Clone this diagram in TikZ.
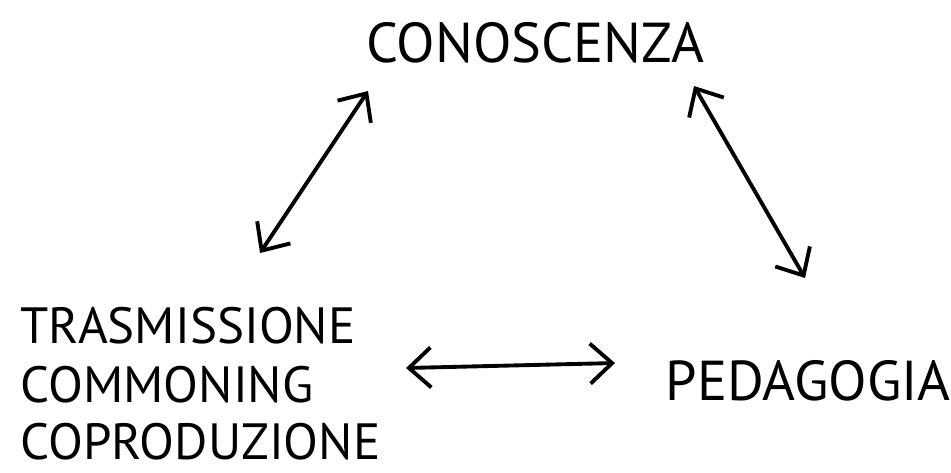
\documentclass[tikz,border=0pt]{standalone}
\usepackage{fontspec}
\setmainfont{PT Sans}
\usepackage{tikz}
\usetikzlibrary{arrows.meta, positioning}

\tikzset{
  word/.style={inner sep=0pt, font=\fontsize{16}{19}\selectfont},
  listword/.style={word, anchor=base west, font=\fontsize{14.5}{17}\selectfont},
  link/.style={line width=1.1pt, line cap=round,
    {Straight Barb[length=2.2mm, width=4mm, line width=1.1pt]}-{Straight Barb[length=2.2mm, width=4mm, line width=1.1pt]}}
}

\begin{document}
\begin{tikzpicture}
        % Frame
        \useasboundingbox (0,0) rectangle (9.51,4.72);

        % Words
        \node[word, anchor=base] (con) at (5.35,4.10) {CONOSCENZA};
        \node[listword] (tra) at (0.20,1.29) {TRASMISSIONE};
        \node[listword] (com) at (0.20,0.70) {COMMONING};
        \node[listword] (cop) at (0.20,0.13) {COPRODUZIONE};
        \node[word, anchor=base west] (ped) at (6.65,0.72) {PEDAGOGIA};

        % Arrow ends
        \coordinate (a1) at (2.60,2.19);
        \coordinate (a2) at (3.68,3.81);
        \coordinate (b1) at (6.94,3.86);
        \coordinate (b2) at (8.05,1.94);
        \coordinate (c1) at (4.06,1.04);
        \coordinate (c2) at (6.15,1.09);

        % Arrows
        \draw[link] (a1) -- (a2);
        \draw[link] (b1) -- (b2);
        \draw[link] (c1) -- (c2);
    \end{tikzpicture}
\end{document}
